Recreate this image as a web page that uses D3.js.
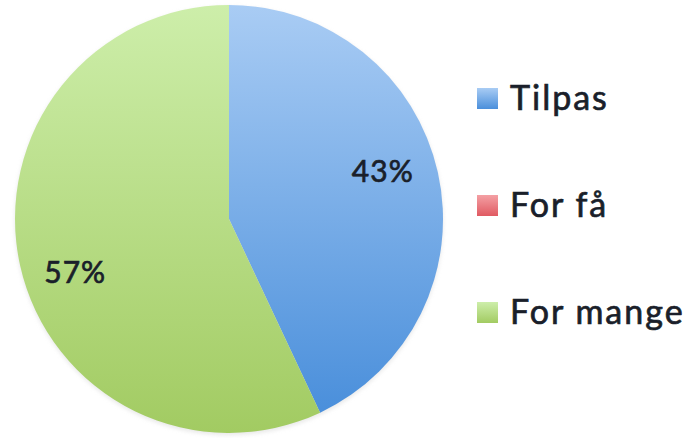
<!DOCTYPE html>
<html><head><meta charset="utf-8">
<script src="https://cdn.jsdelivr.net/npm/d3@7"></script>
<style>body{margin:0;background:#fff}svg{display:block}</style>
</head><body>
<svg id="chart" width="689" height="438"></svg>
<script>
const categories = ["Tilpas", "For få", "For mange"];
const values = [43, 0, 57];
const labels = ["43%", "", "57%"];
const colorsTop = ["#a9ccf4", "#f4a0a4", "#cdeeaa"];
const colorsBottom = ["#4a8fdb", "#e05a62", "#a2cb62"];

const svg = d3.select("#chart");
const cx = 229, cy = 219, R = 214;

const defs = svg.append("defs");
categories.forEach((c, i) => {
  const g = defs.append("linearGradient").attr("id", "g" + i)
    .attr("x1", 0).attr("y1", 0).attr("x2", 0).attr("y2", 1);
  g.append("stop").attr("offset", "0%").attr("stop-color", colorsTop[i]);
  g.append("stop").attr("offset", "100%").attr("stop-color", colorsBottom[i]);
});
const blur = defs.append("filter").attr("id", "sh").attr("x", "-10%").attr("y", "-10%").attr("width", "120%").attr("height", "120%");
blur.append("feGaussianBlur").attr("stdDeviation", 2);

const pie = d3.pie().sort(null).value(d => d)(values);
const arc = d3.arc().innerRadius(0).outerRadius(R);
const labelArc = d3.arc().innerRadius(162).outerRadius(162);

const g = svg.append("g").attr("transform", `translate(${cx},${cy})`);
g.append("circle").attr("r", R).attr("cy", 2).attr("fill", "#d8d8d8").attr("filter", "url(#sh)").attr("opacity", 0.6);
g.selectAll("path.slice").data(pie).join("path").attr("class", "slice")
  .attr("d", arc).attr("fill", (d, i) => `url(#g${i})`);

g.selectAll("text.lbl").data(pie.filter(d => d.value > 0)).join("text").attr("class", "lbl")
  .attr("transform", d => {
    const mid = (d.startAngle + d.endAngle) / 2 - 0.1;
    const p = labelArc.centroid({startAngle: mid, endAngle: mid});
    return `translate(${p[0]},${p[1] + 3})`;
  })
  .attr("text-anchor", "middle").attr("dy", "0.35em")
  .attr("font-family", "Lato, 'Open Sans', sans-serif").attr("font-size", 30)
  .attr("letter-spacing", 1)
  .attr("fill", "#1a1f2a").attr("stroke", "#1a1f2a").attr("stroke-width", 0.7)
  .text((d) => labels[pie.indexOf(d)]);

const legend = svg.append("g").attr("transform", "translate(477,98)");
const items = legend.selectAll("g").data(categories).join("g")
  .attr("transform", (d, i) => `translate(0,${i * 107})`);
items.append("rect").attr("x", 0).attr("y", -10).attr("width", 21).attr("height", 21)
  .attr("fill", (d, i) => `url(#g${i})`);
items.append("text").attr("x", 33).attr("y", 0).attr("dy", "0.35em")
  .attr("font-family", "Lato, 'Open Sans', sans-serif").attr("font-size", 34)
  .attr("letter-spacing", 2)
  .attr("fill", "#1a1f2a").attr("stroke", "#1a1f2a").attr("stroke-width", 0.7)
  .text(d => d);
</script>
</body></html>
